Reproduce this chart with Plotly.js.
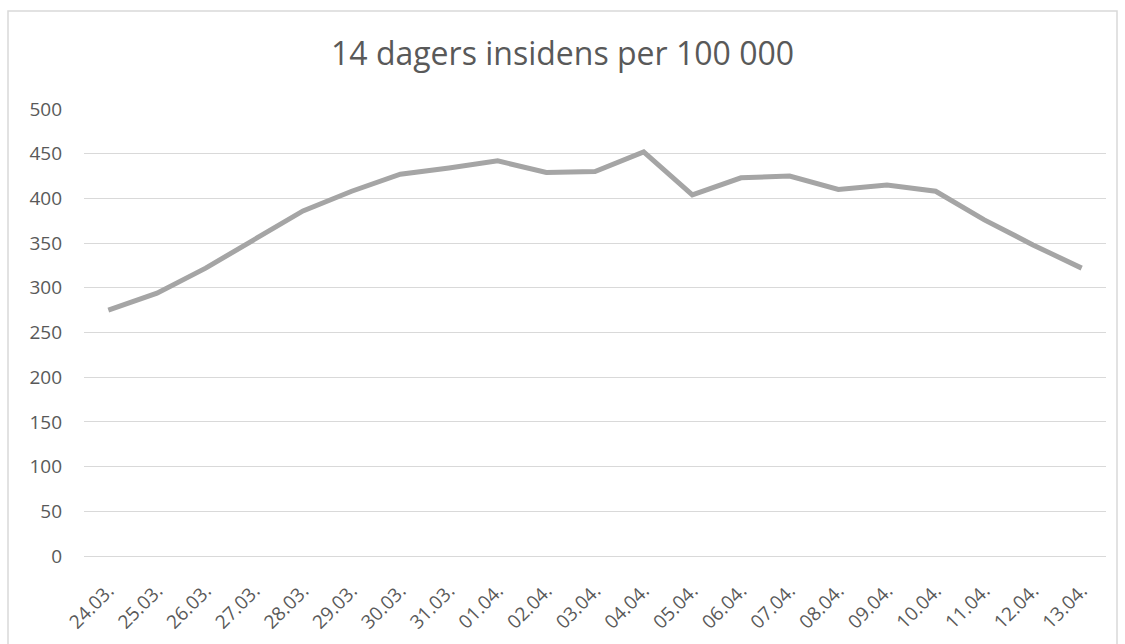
<!DOCTYPE html>
<html>
<head>
<meta charset="utf-8">
<script src="https://cdn.plot.ly/plotly-3.0.1.min.js"></script>
<style>
html,body{margin:0;padding:0;background:#fff;}
#chart{width:1125px;height:644px;}
</style>
</head>
<body>
<div id="chart"></div>
<script>
const categories = ["24.03.","25.03.","26.03.","27.03.","28.03.","29.03.","30.03.","31.03.","01.04.","02.04.","03.04.","04.04.","05.04.","06.04.","07.04.","08.04.","09.04.","10.04.","11.04.","12.04.","13.04."];
const incidence = [275, 294, 322, 354, 386, 408, 427, 434, 442, 429, 430, 452, 404, 423, 425, 410, 415, 408, 376, 348, 322];
const yTicks = [0, 50, 100, 150, 200, 250, 300, 350, 400, 450, 500];
const chartTitle = "14 dagers insidens per 100 000";

const FONT = "'Open Sans', sans-serif";
const TXT = "#595959";

const trace = {
  x: categories,
  y: incidence,
  type: "scatter",
  mode: "lines",
  line: {color: "#A5A5A5", width: 5},
  hoverinfo: "x+y"
};

const layout = {
  width: 1125,
  height: 644,
  paper_bgcolor: "#ffffff",
  plot_bgcolor: "#ffffff",
  margin: {l: 84, r: 19, t: 109, b: 88},
  showlegend: false,
  title: {
    text: chartTitle,
    font: {family: FONT, size: 32, color: TXT},
    x: 0.5, xanchor: "center",
    y: 1 - 54/644, yanchor: "middle"
  },
  xaxis: {
    type: "category",
    tickvals: categories,
    ticktext: categories,
    tickangle: -45,
    showgrid: false,
    zeroline: false,
    showline: false,
    ticks: "",
    ticklabelstandoff: 19,
    tickfont: {family: FONT, size: 19, color: TXT},
    range: [-0.5, categories.length - 0.5]
  },
  yaxis: {
    range: [0, 500],
    tickvals: yTicks,
    ticktext: yTicks.map(String),
    showgrid: true,
    gridcolor: "#D9D9D9",
    gridwidth: 1,
    zeroline: true,
    zerolinecolor: "#D9D9D9",
    zerolinewidth: 1,
    showline: false,
    ticks: "",
    ticklabelstandoff: 21,
    tickfont: {family: FONT, size: 19, color: TXT}
  },
  shapes: [{
    type: "rect",
    xref: "paper", yref: "paper",
    x0: (8 - 84) / 1022, x1: (1117 - 84) / 1022,
    y0: (556 - 660) / 447, y1: (556 - 11) / 447,
    line: {color: "#D9D9D9", width: 1.5},
    fillcolor: "rgba(0,0,0,0)",
    layer: "below"
  }]
};

Plotly.newPlot("chart", [trace], layout, {displayModeBar: false});
</script>
</body>
</html>
